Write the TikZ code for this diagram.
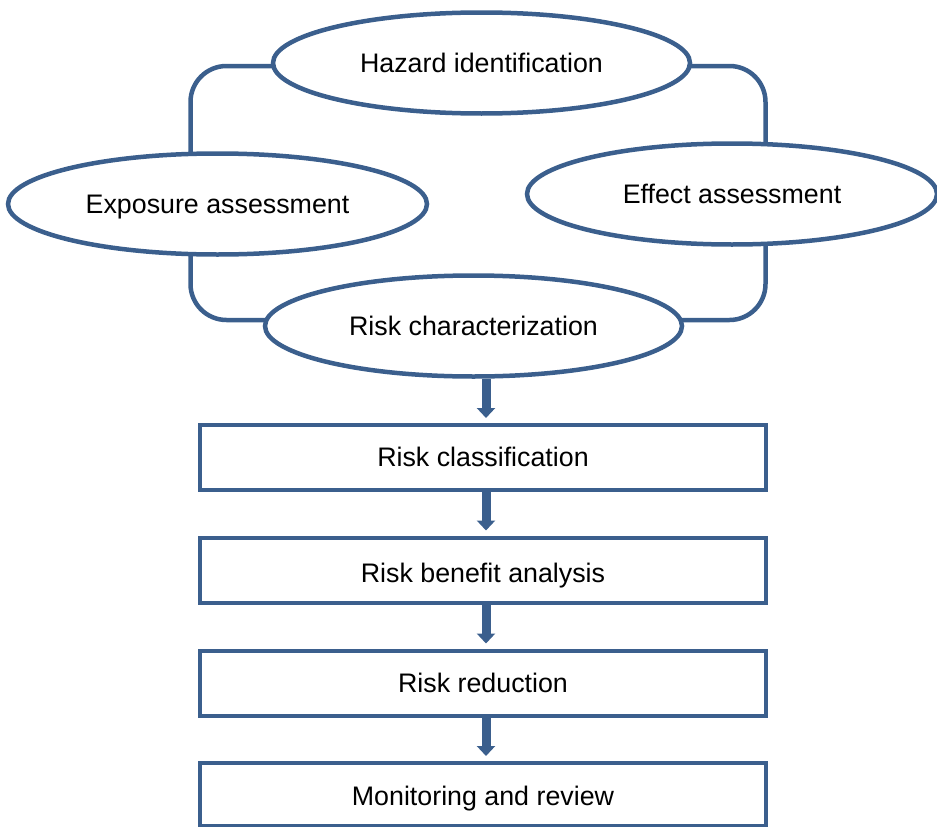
\documentclass[tikz,border=0pt]{standalone}
\usepackage{fontspec}
\setmainfont{Liberation Sans}
\usetikzlibrary{shapes.geometric,arrows.meta,backgrounds}
\definecolor{frame}{RGB}{59,95,141}
\begin{document}
\begin{tikzpicture}[x=1pt,y=-1pt,
  every node/.style={font=\fontsize{26.8}{30}\selectfont, text=black,
    text height=22pt, text depth=4pt},
  oval/.style={ellipse, draw=frame, line width=4.5pt, fill=white, inner sep=0pt,
    minimum width=417pt, minimum height=101pt},
  stage/.style={rectangle, draw=frame, line width=4pt, fill=white,
    minimum width=566pt, minimum height=65pt, inner sep=0pt},
  link/.style={draw=frame, line width=4.5pt, rounded corners=36pt},
  flow/.style={draw=frame, line width=9pt,
    -{Triangle[width=18pt,length=10pt]}, shorten >=5pt}
]
\useasboundingbox (0,0) rectangle (937,827);

% assessment cycle
\node[oval] (haz) at (481.5,63) {Hazard identification};
\node[oval, minimum width=419pt] (expo) at (217.5,204) {Exposure assessment};
\node[oval, minimum width=410pt] (eff) at (732,194) {Effect assessment};
\node[oval] (rc) at (473.5,326) {Risk characterization};

% management stages
\node[stage] (b1) at (483,457.5) {Risk classification};
\node[stage, text height=26pt, text depth=2pt] (b2) at (483,570) {Risk benefit analysis};
\node[stage] (b3) at (483,683) {Risk reduction};
\node[stage, minimum height=63pt, text height=23.5pt, text depth=2.5pt] (b4) at (483,794.5) {Monitoring and review};

% frame joining the four ellipses
\coordinate (topline) at (0,66);
\coordinate (botline) at (0,320);
\coordinate (leftline) at (190.5,0);
\coordinate (rightline) at (765.5,0);
\begin{scope}[on background layer]
  \draw[link] (haz.center |- topline) -| (expo.center -| leftline);
  \draw[link] (expo.center -| leftline) |- (rc.center |- botline);
  \draw[link] (haz.center |- topline) -| (eff.center -| rightline);
  \draw[link] (eff.center -| rightline) |- (rc.center |- botline);
\end{scope}

% downward flow
\coordinate (ax) at (486,0);
\draw[flow] (rc.south -| ax) -- (b1.north -| ax);
\draw[flow] (b1.south -| ax) -- (b2.north -| ax);
\draw[flow] (b2.south -| ax) -- (b3.north -| ax);
\draw[flow] (b3.south -| ax) -- (b4.north -| ax);
\end{tikzpicture}
\end{document}
